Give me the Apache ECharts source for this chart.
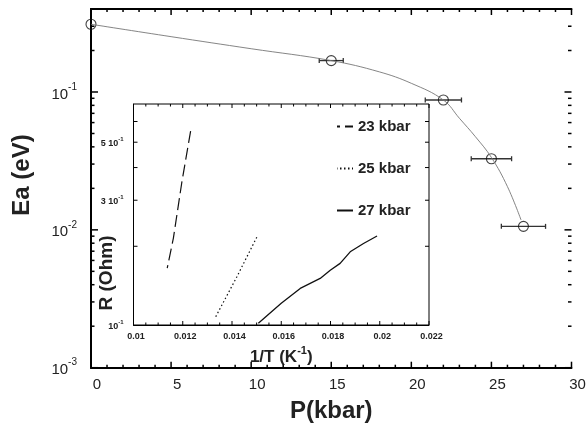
<!DOCTYPE html>
<html>
<head>
<meta charset="utf-8">
<script src="https://cdn.jsdelivr.net/npm/echarts@6/dist/echarts.min.js"></script>
<style>
html, body { margin: 0; padding: 0; background: #fff; }
#main { width: 586px; height: 432px; }
</style>
</head>
<body>
<div id="main"></div>
<script>
// main plot: Ea vs P
var pressure = [0, 15, 22, 25, 27];
var energy = [0.31, 0.169, 0.0875, 0.0328, 0.0106];
var pressureErr = [0, 0.75, 1.13, 1.26, 1.38];

// fitted curve
var fitP = [0, 5, 10, 15, 18, 20, 22, 23, 24, 25, 26, 26.85];
var fitE = [0.31, 0.252, 0.206, 0.169, 0.140, 0.1156, 0.0875, 0.0645, 0.0474, 0.0335, 0.0206, 0.0118];

// tick positions of the main frame
var mainXMajor = [0, 5, 10, 15, 20, 25, 30];
var mainXMinor = [1, 2, 3, 4, 6, 7, 8, 9, 11, 12, 13, 14, 16, 17, 18, 19, 21, 22, 23, 24, 26, 27, 28, 29];
var mainYMajor = [0.001, 0.01, 0.1];
var mainYMinor = [0.002, 0.003, 0.004, 0.005, 0.006, 0.007, 0.008, 0.009,
                  0.02, 0.03, 0.04, 0.05, 0.06, 0.07, 0.08, 0.09, 0.2, 0.3];

// inset: R vs 1/T
var inv23 = [0.01137, 0.01162, 0.01196, 0.01234];
var r23 = [0.165, 0.215, 0.35, 0.566];
var inv25 = [0.01334, 0.0142, 0.01501];
var r25 = [0.1076, 0.153, 0.217];
var inv27 = [0.01507, 0.0160, 0.01677, 0.01758, 0.01799, 0.01839, 0.0188, 0.01934, 0.01989];
var r27 = [0.1015, 0.121, 0.138, 0.1507, 0.162, 0.172, 0.1905, 0.205, 0.219];

var insetXMajor = [0.01, 0.012, 0.014, 0.016, 0.018, 0.02, 0.022];
var insetXMinor = [0.0105, 0.011, 0.0115, 0.0125, 0.013, 0.0135, 0.0145, 0.015, 0.0155,
                   0.0165, 0.017, 0.0175, 0.0185, 0.019, 0.0195, 0.0205, 0.021, 0.0215];
var insetYLabels = [0.1, 0.3, 0.5];
var insetYTicks = [0.2, 0.3, 0.4, 0.5, 0.6];

var FONT = '"Liberation Sans", Arial, Helvetica, sans-serif';

function zip(a, b) {
    var out = [];
    for (var i = 0; i < a.length; i++) out.push([a[i], b[i]]);
    return out;
}

var errData = [];
for (var i = 1; i < pressure.length; i++) {
    errData.push([pressure[i], pressure[i] - pressureErr[i], pressure[i] + pressureErr[i], energy[i]]);
}

function renderErr(params, api) {
    var y = api.value(3);
    var a = api.coord([api.value(1), y]);
    var b = api.coord([api.value(2), y]);
    var st = { stroke: '#333', lineWidth: 1.3 };
    return {
        type: 'group',
        children: [
            { type: 'line', shape: { x1: a[0], y1: a[1], x2: b[0], y2: b[1] }, style: st },
            { type: 'line', shape: { x1: a[0], y1: a[1] - 2.5, x2: a[0], y2: a[1] + 2.5 }, style: st },
            { type: 'line', shape: { x1: b[0], y1: b[1] - 2.5, x2: b[0], y2: b[1] + 2.5 }, style: st }
        ]
    };
}

// ticks pointing inward on all four sides of a frame
// row: [x, y, kind (0 = x tick, 1 = y tick), length, width]
function tickRows(vals, kind, fixed, len, w) {
    return vals.map(function (v) {
        return kind === 0 ? [v, fixed, 0, len, w] : [fixed, v, 1, len, w];
    });
}

function renderTicks(params, api) {
    var cs = params.coordSys;
    var p = api.coord([api.value(0), api.value(1)]);
    var len = api.value(3);
    var st = { stroke: '#000', lineWidth: api.value(4) };
    var lines;
    if (api.value(2) === 0) {
        var bottom = cs.y + cs.height;
        lines = [
            { x1: p[0], y1: bottom, x2: p[0], y2: bottom - len },
            { x1: p[0], y1: cs.y, x2: p[0], y2: cs.y + len }
        ];
    } else {
        var right = cs.x + cs.width;
        lines = [
            { x1: cs.x, y1: p[1], x2: cs.x + len, y2: p[1] },
            { x1: right, y1: p[1], x2: right - len, y2: p[1] }
        ];
    }
    return {
        type: 'group',
        children: lines.map(function (s) { return { type: 'line', shape: s, style: st }; })
    };
}

var mainTicks = [].concat(
    tickRows(mainXMajor, 0, 0.01, 6, 1.5),
    tickRows(mainXMinor, 0, 0.01, 3, 1.5),
    tickRows(mainYMajor, 1, 15, 7, 1.5),
    tickRows(mainYMinor, 1, 15, 3.5, 1.5)
);
var insetTicks = [].concat(
    tickRows(insetXMajor, 0, 0.2, 4, 1),
    tickRows(insetXMinor, 0, 0.2, 2.5, 1),
    tickRows(insetYTicks, 1, 0.016, 4, 1)
);

function decadeLabel(v) {
    var e = Math.round(Math.log(v) / Math.LN10);
    if (Math.abs(v / Math.pow(10, e) - 1) > 1e-6) return '';
    return '{b|10}{s|' + e + '}';
}

function insetYLabel(v) {
    var m = Math.round(v * 10);
    if (m === 1) return '{b|10}{s|-1}';
    return '{b|' + m + ' 10}{s|-1}';
}

var noTick = { show: false };
var chart = echarts.init(document.getElementById('main'));
var option = {
    animation: false,
    backgroundColor: '#fff',
    textStyle: { fontFamily: FONT, color: '#000' },
    grid: [
        { left: 91, right: 14.5, top: 9, bottom: 64.3, outerBoundsMode: 'none' },
        { left: 133.5, right: 157, top: 104, bottom: 107, outerBoundsMode: 'none',
          show: true, backgroundColor: '#fff', borderColor: '#000', borderWidth: 1 }
    ],
    legend: {
        orient: 'vertical',
        left: 331,
        top: 114,
        itemWidth: 16,
        itemHeight: 14,
        itemGap: 27,
        itemStyle: { opacity: 0 },
        textStyle: { fontFamily: FONT, fontSize: 15, fontWeight: 'bold', color: '#222' },
        data: ['23 kbar', '25 kbar', '27 kbar']
    },
    xAxis: [
        {
            type: 'value', gridIndex: 0, min: 0, max: 30, interval: 5,
            axisLine: { show: true, lineStyle: { color: '#000', width: 2 } },
            axisTick: noTick, splitLine: { show: false },
            axisLabel: { fontSize: 15, color: '#222', margin: 10, padding: [0, 0, 0, 12] },
            name: 'P(kbar)', nameLocation: 'middle', nameGap: 32,
            nameTextStyle: { fontSize: 24, fontWeight: 'bold', color: '#222', fontFamily: FONT }
        },
        {
            type: 'value', gridIndex: 0, position: 'top', min: 0, max: 30, interval: 5,
            axisLine: { show: true, lineStyle: { color: '#000', width: 2 } },
            axisTick: noTick, splitLine: { show: false }, axisLabel: { show: false }
        },
        {
            type: 'value', gridIndex: 1, min: 0.01, max: 0.022, interval: 0.002,
            axisLine: { show: true, lineStyle: { color: '#000', width: 1 } },
            axisTick: noTick, splitLine: { show: false },
            axisLabel: {
                fontSize: 9, fontWeight: 'bold', color: '#222', margin: 7, padding: [0, 0, 0, 5],
                formatter: function (v) { return String(+v.toFixed(3)); }
            },
            name: '{b|1/T (K}{s|-1}{b|)}', nameLocation: 'middle', nameGap: 19,
            nameTextStyle: {
                rich: {
                    b: { fontSize: 17, fontWeight: 'bold', color: '#222', fontFamily: FONT, lineHeight: 20, verticalAlign: 'bottom' },
                    s: { fontSize: 11, fontWeight: 'bold', color: '#222', fontFamily: FONT, lineHeight: 12, verticalAlign: 'top' }
                }
            }
        }
    ],
    yAxis: [
        {
            type: 'log', logBase: 10, gridIndex: 0, position: 'left', min: 0.001, max: 0.4,
            axisLine: { show: true, lineStyle: { color: '#000', width: 2 } },
            axisTick: noTick, splitLine: { show: false },
            axisLabel: {
                margin: 14, formatter: decadeLabel,
                rich: {
                    b: { fontSize: 15, color: '#222', fontFamily: FONT, lineHeight: 20, verticalAlign: 'bottom' },
                    s: { fontSize: 10, color: '#222', fontFamily: FONT, lineHeight: 11, verticalAlign: 'top' }
                }
            }
        },
        {
            type: 'log', logBase: 10, gridIndex: 0, position: 'right', min: 0.001, max: 0.4,
            axisLine: { show: true, lineStyle: { color: '#000', width: 2 } },
            axisTick: noTick, splitLine: { show: false }, axisLabel: { show: false }
        },
        {
            type: 'log', logBase: 10, gridIndex: 1, position: 'left', min: 0.1, max: 0.7,
            axisLine: { show: true, lineStyle: { color: '#000', width: 1 } },
            axisTick: noTick, splitLine: { show: false },
            axisLabel: {
                margin: 10, customValues: insetYLabels, formatter: insetYLabel,
                rich: {
                    b: { fontSize: 9, fontWeight: 'bold', color: '#222', fontFamily: FONT, lineHeight: 12, verticalAlign: 'bottom' },
                    s: { fontSize: 6, fontWeight: 'bold', color: '#222', fontFamily: FONT, lineHeight: 7, verticalAlign: 'top' }
                }
            }
        }
    ],
    graphic: [
        {
            type: 'text', x: 22, y: 175, rotation: Math.PI / 2,
            style: { text: 'Ea (eV)', fontSize: 24, fontWeight: 'bold', fontFamily: FONT, fill: '#222', align: 'center', verticalAlign: 'middle' }
        },
        {
            type: 'text', x: 107, y: 273, rotation: Math.PI / 2,
            style: { text: 'R (Ohm)', fontSize: 19, fontWeight: 'bold', fontFamily: FONT, fill: '#222', align: 'center', verticalAlign: 'middle' }
        }
    ],
    series: [
        {
            name: 'mainTicks', type: 'custom', xAxisIndex: 0, yAxisIndex: 0,
            data: mainTicks, renderItem: renderTicks, encode: { x: 0, y: 1 }, clip: false, silent: true
        },
        {
            name: 'fit', type: 'line', xAxisIndex: 0, yAxisIndex: 0,
            data: zip(fitP, fitE), smooth: 0.4, showSymbol: false, symbol: 'none',
            lineStyle: { color: '#777', width: 0.9 }, silent: true
        },
        {
            name: 'err', type: 'custom', xAxisIndex: 0, yAxisIndex: 0,
            data: errData, renderItem: renderErr, encode: { x: [0, 1, 2], y: 3 }, clip: false
        },
        {
            name: 'Ea', type: 'scatter', xAxisIndex: 0, yAxisIndex: 0,
            data: zip(pressure, energy), symbol: 'circle', symbolSize: 10,
            itemStyle: { color: 'rgba(0,0,0,0)', borderColor: '#111', borderWidth: 1.1 }, clip: false
        },
        {
            name: 'insetTicks', type: 'custom', xAxisIndex: 2, yAxisIndex: 2,
            data: insetTicks, renderItem: renderTicks, encode: { x: 0, y: 1 }, clip: false, silent: true
        },
        {
            name: '23 kbar', type: 'line', xAxisIndex: 2, yAxisIndex: 2,
            data: zip(inv23, r23), symbol: 'none',
            itemStyle: { color: '#111' },
            lineStyle: { color: '#111', width: 1.2, type: [12, 5], dashOffset: 9 }
        },
        {
            name: '25 kbar', type: 'line', xAxisIndex: 2, yAxisIndex: 2,
            data: zip(inv25, r25), symbol: 'none',
            itemStyle: { color: '#111' },
            lineStyle: { color: '#111', width: 1.2, type: [1.5, 2.5] }
        },
        {
            name: '27 kbar', type: 'line', xAxisIndex: 2, yAxisIndex: 2,
            data: zip(inv27, r27), symbol: 'none',
            itemStyle: { color: '#111' },
            lineStyle: { color: '#111', width: 1.3 }
        }
    ]
};
chart.setOption(option);
</script>
</body>
</html>
